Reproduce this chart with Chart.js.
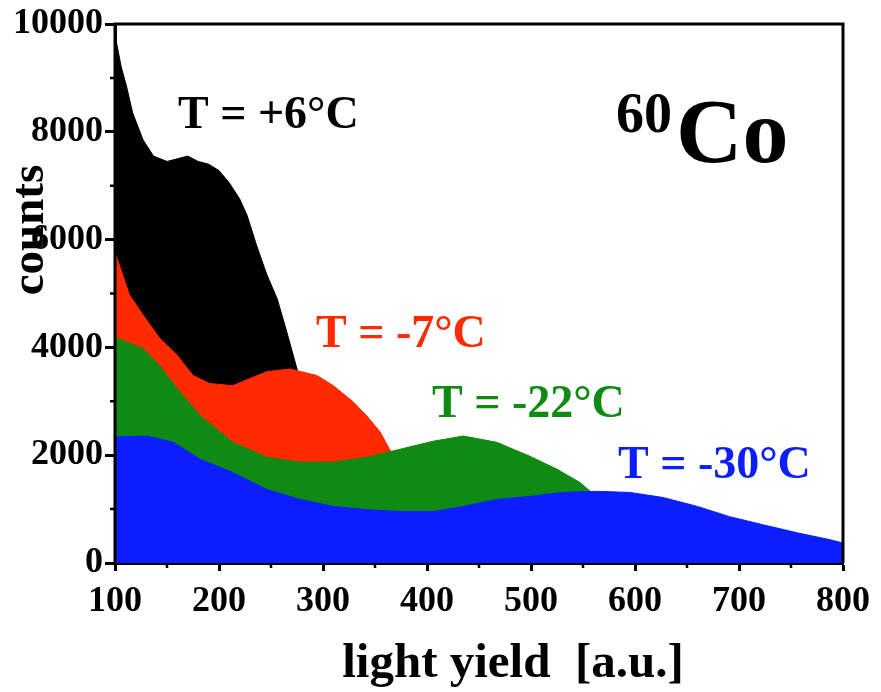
<!DOCTYPE html>
<html>
<head>
<meta charset="utf-8">
<script src="https://cdn.jsdelivr.net/npm/chart.js@4"></script>
<style>
  body { margin: 0; background: #fff; }
  #wrap { width: 881px; height: 692px; }
</style>
</head>
<body>
<div id="wrap"><canvas id="chart-co60" width="881" height="692"></canvas></div>
<script>
// light yield [a.u.] / counts
const blackX = [100, 103, 106, 111, 117, 127, 137, 150, 160, 170, 180, 190, 200, 210, 220, 227, 236, 246, 256, 265, 275, 285, 300, 330, 370, 400];
const blackY = [9800, 9500, 9200, 8850, 8350, 7850, 7550, 7450, 7500, 7550, 7450, 7400, 7280, 7050, 6750, 6450, 5900, 5350, 4900, 4300, 3600, 3000, 2200, 1000, 300, 0];

const redX = [100, 105, 114, 127, 143, 160, 175, 191, 213, 246, 268, 294, 310, 329, 342, 355, 364, 380, 400, 450, 480];
const redY = [5760, 5480, 4970, 4600, 4170, 3850, 3480, 3330, 3290, 3550, 3600, 3480, 3290, 2990, 2730, 2430, 2110, 1600, 1200, 500, 200];

const greenX = [100, 102, 127, 143, 160, 182, 213, 246, 278, 310, 342, 374, 406, 435, 467, 499, 525, 547, 557, 570, 600, 650, 700];
const greenY = [4170, 4170, 3980, 3660, 3230, 2730, 2240, 1960, 1870, 1870, 1960, 2110, 2260, 2355, 2240, 1980, 1740, 1495, 1330, 1100, 800, 400, 150];

const blueX = [100, 102, 131, 156, 182, 213, 246, 278, 310, 342, 374, 406, 435, 467, 499, 531, 563, 595, 627, 660, 691, 723, 756, 788, 800];
const blueY = [2300, 2340, 2355, 2240, 1925, 1680, 1365, 1180, 1050, 990, 955, 955, 1050, 1180, 1235, 1310, 1330, 1310, 1215, 1050, 860, 710, 560, 430, 370];

const xTicks = [100, 200, 300, 400, 500, 600, 700, 800];
const yTicks = [0, 2000, 4000, 6000, 8000, 10000];

const labels = [
    { text: 'T = +6°C', color: '#000000', x: 178, y: 128 },
    { text: 'T = -7°C', color: '#ff2a00', x: 316, y: 347 },
    { text: 'T = -22°C', color: '#0f8a12', x: 432, y: 417 },
    { text: 'T = -30°C', color: '#0a1eff', x: 618, y: 478 }
];

function pts(xs, ys) {
    return xs.map(function (x, i) { return { x: x, y: ys[i] }; });
}

function spectrum(label, xs, ys, color, order) {
    return {
        label: label,
        data: pts(xs, ys),
        borderColor: color,
        backgroundColor: color,
        borderWidth: 1,
        pointRadius: 0,
        tension: 0,
        fill: 'origin',
        order: order
    };
}

const SERIF = '"Liberation Serif", "DejaVu Serif", serif';

/* marco, ticks menores, rotulos y titulos */
const decor = {
    id: 'decor',
    afterDraw: function (chart) {
        const ctx = chart.ctx;
        const a = chart.chartArea;
        const sx = chart.scales.x, sy = chart.scales.y;
        ctx.save();
        ctx.strokeStyle = '#000';
        ctx.lineWidth = 3;
        ctx.beginPath();
        ctx.moveTo(a.left, a.bottom);
        ctx.lineTo(a.left, a.top);
        ctx.lineTo(a.right, a.top);
        ctx.lineTo(a.right, a.bottom);
        ctx.stroke();

        // minor ticks
        ctx.lineWidth = 2.5;
        ctx.beginPath();
        for (let v = 150; v < 800; v += 100) {
            const px = sx.getPixelForValue(v);
            ctx.moveTo(px, a.bottom);
            ctx.lineTo(px, a.bottom + 5);
        }
        for (let v = 1000; v < 10000; v += 2000) {
            const py = sy.getPixelForValue(v);
            ctx.moveTo(a.left, py);
            ctx.lineTo(a.left - 5, py);
        }
        ctx.stroke();

        ctx.textBaseline = 'alphabetic';
        ctx.textAlign = 'left';
        ctx.font = 'bold 46px ' + SERIF;
        labels.forEach(function (l) {
            ctx.fillStyle = l.color;
            ctx.fillText(l.text, l.x, l.y);
        });

        ctx.fillStyle = '#000';
        ctx.font = 'bold 56px ' + SERIF;
        ctx.fillText('60', 616, 132);
        ctx.font = 'bold 92px ' + SERIF;
        ctx.fillText('Co', 676, 162);

        ctx.font = 'bold 49px ' + SERIF;
        ctx.textAlign = 'center';
        ctx.fillText('light yield  [a.u.]', 513, 677);

        ctx.font = 'bold 47px ' + SERIF;
        ctx.translate(43, 230);
        ctx.rotate(-Math.PI / 2);
        ctx.fillText('counts', 0, 0);
        ctx.restore();
    }
};

const chart = new Chart(document.getElementById('chart-co60').getContext('2d'), {
    type: 'line',
    data: {
        datasets: [
            spectrum('T = +6°C', blackX, blackY, '#000000', 4),
            spectrum('T = -7°C', redX, redY, '#ff2a00', 3),
            spectrum('T = -22°C', greenX, greenY, '#0f8a12', 2),
            spectrum('T = -30°C', blueX, blueY, '#0a1eff', 1)
        ]
    },
    options: {
        responsive: false,
        animation: false,
        layout: { padding: { top: 24, right: 38, left: 0, bottom: 0 } },
        scales: {
            x: {
                type: 'linear',
                min: 100,
                max: 800,
                afterBuildTicks: function (s) { s.ticks = xTicks.map(function (v) { return { value: v }; }); },
                afterFit: function (s) { s.height = 129; },
                ticks: {
                    color: '#000',
                    padding: 9,
                    maxRotation: 0,
                    callback: function (v) { return String(v); },
                    font: { family: SERIF, size: 36, weight: 'bold' }
                },
                grid: { drawOnChartArea: false, tickLength: 8, tickWidth: 3, tickColor: '#000' },
                border: { display: true, color: '#000', width: 3 }
            },
            y: {
                min: 0,
                max: 10000,
                afterBuildTicks: function (s) { s.ticks = yTicks.map(function (v) { return { value: v }; }); },
                afterFit: function (s) { s.width = 115; },
                ticks: {
                    color: '#000',
                    padding: 2,
                    callback: function (v) { return String(v); },
                    font: { family: SERIF, size: 36, weight: 'bold' }
                },
                grid: { drawOnChartArea: false, tickLength: 10, tickWidth: 3, tickColor: '#000' },
                border: { display: true, color: '#000', width: 3 }
            }
        },
        plugins: {
            legend: { display: false },
            tooltip: { enabled: false }
        }
    },
    plugins: [decor]
});
</script>
</body>
</html>
